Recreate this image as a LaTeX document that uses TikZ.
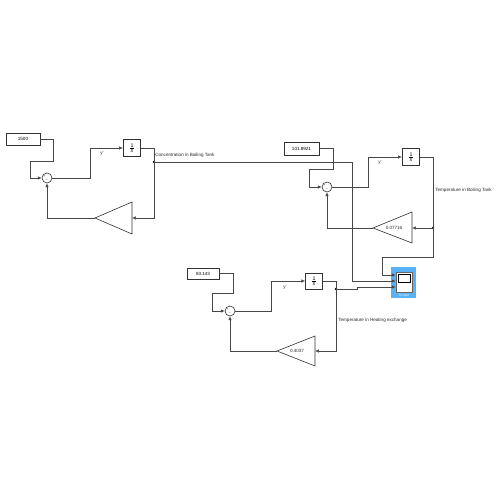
\documentclass[tikz,border=0pt]{standalone}
\usepackage{fontspec}
\setmainfont{Liberation Sans}
\usetikzlibrary{arrows.meta}
\definecolor{selblue}{RGB}{88,178,245}
\begin{document}
\begin{tikzpicture}[x=0.02cm,y=-0.02cm,
  wire/.style={draw=black!72, line width=0.35pt},
  arr/.style={wire,-{Latex[length=2.2pt,width=2pt]}},
  tinyfont/.style={font=\fontsize{2.6}{3}\selectfont},
  constbox/.style={draw=black!80, line width=0.35pt, inner sep=0pt, tinyfont},
  intbox/.style={draw=black!80, line width=0.35pt, inner sep=0pt, minimum width=0.35cm, minimum height=0.35cm},
  sumnode/.style={draw=black!80, line width=0.35pt, circle, inner sep=0pt, minimum size=0.2cm},
  gaintri/.style={draw=black!80, line width=0.35pt},
  lbl/.style={tinyfont, inner sep=0pt, text=black!85},
  fraclbl/.style={font=\fontsize{3}{3}\selectfont, inner sep=0pt},
  dot/.style={circle, fill=black, inner sep=0pt, minimum size=1.6pt}
]
\useasboundingbox (0,0) rectangle (500,500);

% ---------- Block 1: concentration ----------
\node[constbox, minimum width=0.68cm, minimum height=0.24cm] (c1) at (23,139) {1500};
\node[sumnode] (s1) at (47,178) {};
\node[lbl, font=\fontsize{2}{2}\selectfont] at (44.5,176.5) {+};
\node[lbl, font=\fontsize{2}{2}\selectfont] at (47,181) {−};
\node[intbox] (i1) at (132,148) {};
\node[fraclbl] at ([yshift=1.5pt]i1.center) {1};
\node[fraclbl] at ([yshift=-1.6pt]i1.center) {\itshape s};
\draw[line width=0.3pt] ([xshift=-1.1pt]i1.center) -- ([xshift=1.1pt]i1.center);
\node[dot] (j1) at (154,162) {};
\draw[gaintri] (132,202) -- (132,234) -- (95,218) -- cycle;
\coordinate (g1in) at (132,218);
\coordinate (g1out) at (95,218);
\node[lbl] (y1) at (102,153) {y'};
\node[lbl, anchor=west] (t1) at (155,155.5) {Concentration in Boiling Tank};

\draw[arr] (c1.east) -- (53,139) -- (53,161) -- (30,161) |- (s1.west);
\draw[arr] (s1.east) -- (90,178) |- (i1.west);
\draw[wire] (i1.east) -| (j1.center);
\draw[arr] (j1.center) |- (g1in);
\draw[arr] (g1out) -| (s1.south);

% ---------- Block 2: boiling tank temperature ----------
\node[constbox, minimum width=0.7cm, minimum height=0.26cm] (c2) at (301.5,148.5) {101.8921};
\node[sumnode] (s2) at (327,187) {};
\node[lbl, font=\fontsize{2}{2}\selectfont] at (324.5,185.5) {+};
\node[lbl, font=\fontsize{2}{2}\selectfont] at (327,190) {−};
\node[intbox] (i2) at (411,157) {};
\node[fraclbl] at ([yshift=1.5pt]i2.center) {1};
\node[fraclbl] at ([yshift=-1.6pt]i2.center) {\itshape s};
\draw[line width=0.3pt] ([xshift=-1.1pt]i2.center) -- ([xshift=1.1pt]i2.center);
\node[dot] (j2) at (433,228) {};
\draw[gaintri] (412,212) -- (412,243) -- (373,228) -- cycle;
\coordinate (g2in) at (412,228);
\coordinate (g2out) at (373,228);
\node[lbl] (k2) at (394,228) {0.07716};
\node[lbl] (y2) at (380,162) {y'};
\node[lbl, anchor=west] (t2) at (435,190) {Temperature in Boiling Tank};

\draw[arr] (c2.east) -- (333,148.5) -- (333,169) -- (309,169) |- (s2.west);
\draw[arr] (s2.east) -- (368,187) |- (i2.west);
\draw[wire] (i2.east) -| (j2.center);
\draw[arr] (j2.center) -- (g2in);
\draw[arr] (g2out) -| (s2.south);

% ---------- Block 3: heating exchange temperature ----------
\node[constbox, minimum width=0.64cm, minimum height=0.22cm] (c3) at (203,273.5) {83.143};
\node[sumnode] (s3) at (230,311) {};
\node[lbl, font=\fontsize{2}{2}\selectfont] at (227.5,309.5) {+};
\node[lbl, font=\fontsize{2}{2}\selectfont] at (230,314) {−};
\node[intbox, minimum width=0.34cm, minimum height=0.32cm] (i3) at (314,281) {};
\node[fraclbl] at ([yshift=1.5pt]i3.center) {1};
\node[fraclbl] at ([yshift=-1.6pt]i3.center) {\itshape s};
\draw[line width=0.3pt] ([xshift=-1.1pt]i3.center) -- ([xshift=1.1pt]i3.center);
\node[dot] (j3) at (336,289) {};
\draw[gaintri] (315,336) -- (315,366) -- (277,351) -- cycle;
\coordinate (g3in) at (315,351);
\coordinate (g3out) at (277,351);
\node[lbl] (k3) at (297,351) {0.4037};
\node[lbl] (y3) at (285,287) {y'};
\node[lbl, anchor=west] (t3) at (338,320) {Temperature in Heating exchange};

\draw[arr] (c3.east) -- (233,273.5) -- (233,293) -- (212,293) |- (s3.west);
\draw[arr] (s3.east) -- (271,311) |- (i3.west);
\draw[wire] (i3.east) -| (j3.center);
\draw[arr] (j3.center) |- (g3in);
\draw[arr] (g3out) -| (s3.south);

% ---------- Scope ----------
\fill[selblue] (391,267) rectangle (416,298);
\node[draw=black!60, fill=white, line width=0.35pt, minimum width=0.32cm, minimum height=0.4cm, inner sep=0pt] (sc) at (404,282) {};
\draw[black, line width=0.45pt] (398,274.5) rectangle (410,282);
\node[lbl, text=white!70!selblue, font=\fontsize{2.2}{2.5}\selectfont] (scl) at (404,295.5) {Scope};
\coordinate (in1) at (sc.west |- 0,275);
\coordinate (in2) at (sc.west |- 0,281);
\coordinate (in3) at (sc.west |- 0,287);

\draw[arr] (j2.center) -- (433,257) -- (382,257) |- (in1);
\draw[arr] (j1.center) -- (352,162) |- (in2);
\draw[arr] (j3.center) -- (357,289) -- (357,287) -- (in3);
\end{tikzpicture}
\end{document}
